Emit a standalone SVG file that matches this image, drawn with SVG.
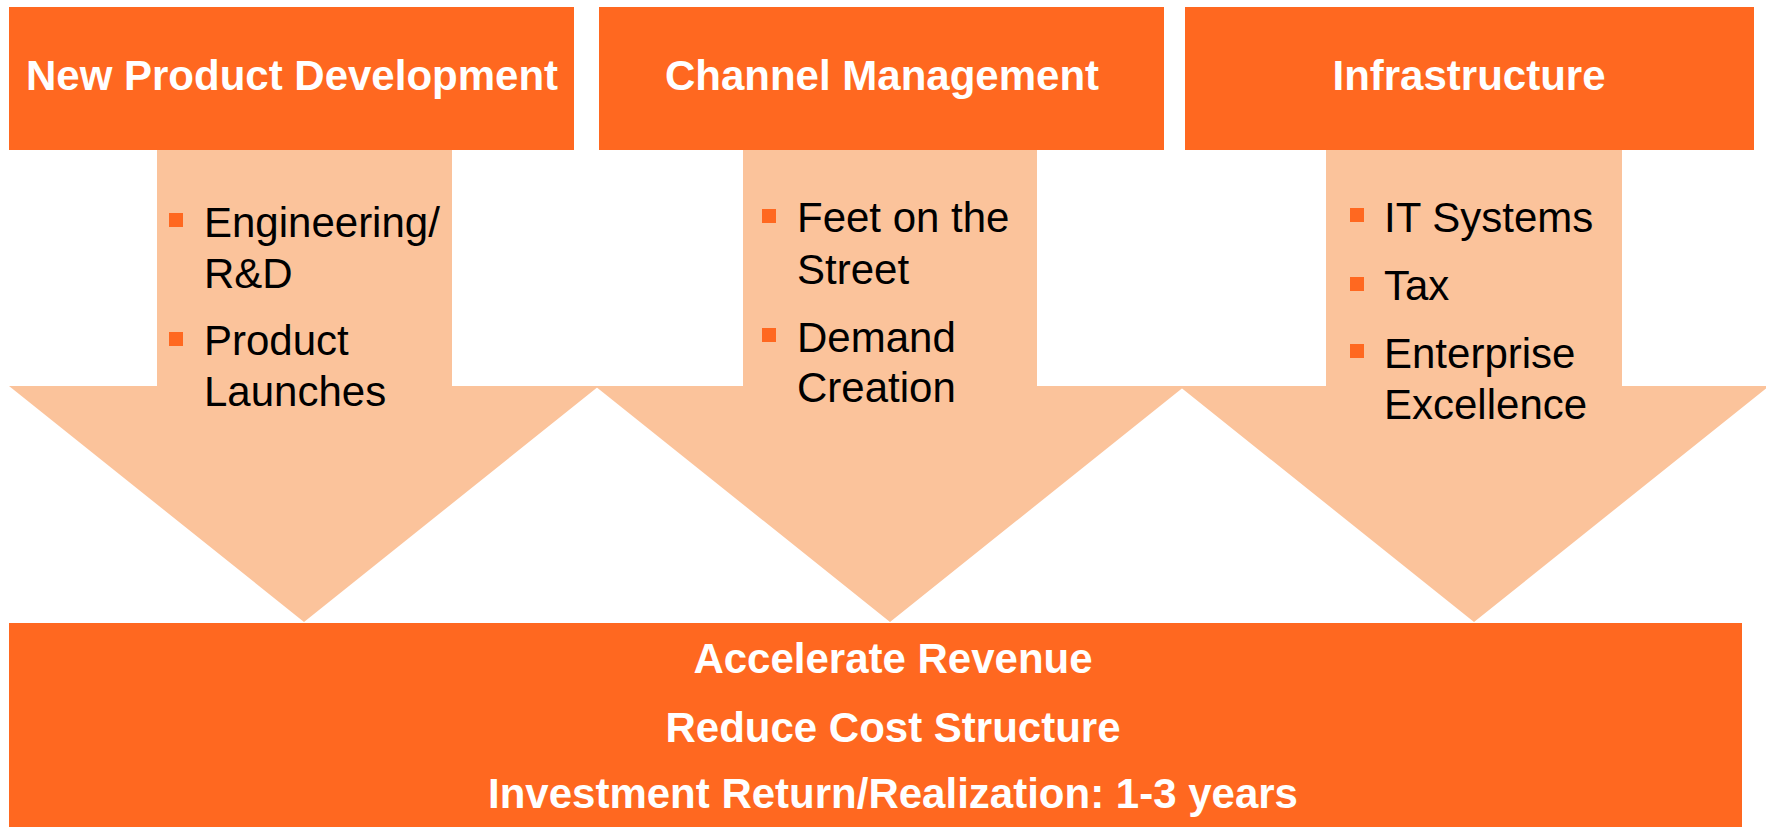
<svg xmlns="http://www.w3.org/2000/svg" width="1766" height="827" viewBox="0 0 1766 827">
<style>
.box{fill:#FF6820}
.arrow{fill:#FBC39B}
.hdr{font-family:"Liberation Sans",Arial,sans-serif;font-weight:bold;font-size:42px;fill:#FFFFFF;text-anchor:middle}
.item{font-family:"Liberation Sans",Arial,sans-serif;font-size:42px;fill:#000000}
.bul{fill:#FF6820}
</style>
<rect width="1766" height="827" fill="#FFFFFF"/>
<g id="connectors">
<polygon class="arrow" points="157,150 452,150 452,386 599,386 304,622 9,386 157,386"/>
<polygon class="arrow" points="743,150 1037,150 1037,386 1185,386 890,622 595,386 743,386"/>
<polygon class="arrow" points="1326,150 1622,150 1622,386 1769,386 1474,622 1179,386 1326,386"/>
</g>
<g id="node-new-product">
<rect class="box" x="9" y="7" width="565" height="143"/>
<text class="hdr" x="292" y="90">New Product Development</text>
</g>
<g id="node-channel">
<rect class="box" x="599" y="7" width="565" height="143"/>
<text class="hdr" x="882" y="90">Channel Management</text>
</g>
<g id="node-infra">
<rect class="box" x="1185" y="7" width="569" height="143"/>
<text class="hdr" x="1469" y="90">Infrastructure</text>
</g>
<g id="list-new-product">
<rect class="bul" x="169" y="213" width="14" height="14"/>
<text class="item" x="204" y="237">Engineering/</text>
<text class="item" x="204" y="288">R&amp;D</text>
<rect class="bul" x="169" y="332" width="14" height="14"/>
<text class="item" x="204" y="355">Product</text>
<text class="item" x="204" y="406">Launches</text>
</g>
<g id="list-channel">
<rect class="bul" x="762" y="209" width="14" height="14"/>
<text class="item" x="797" y="232">Feet on the</text>
<text class="item" x="797" y="284">Street</text>
<rect class="bul" x="762" y="328" width="14" height="14"/>
<text class="item" x="797" y="352">Demand</text>
<text class="item" x="797" y="402">Creation</text>
</g>
<g id="list-infra">
<rect class="bul" x="1350" y="208" width="14" height="14"/>
<text class="item" x="1384" y="232">IT Systems</text>
<rect class="bul" x="1350" y="277" width="14" height="14"/>
<text class="item" x="1384" y="300">Tax</text>
<rect class="bul" x="1350" y="344" width="14" height="14"/>
<text class="item" x="1384" y="368">Enterprise</text>
<text class="item" x="1384" y="419">Excellence</text>
</g>
<g id="node-outcome">
<rect class="box" x="9" y="623" width="1733" height="204"/>
<text class="hdr" x="893" y="673">Accelerate Revenue</text>
<text class="hdr" x="893" y="742">Reduce Cost Structure</text>
<text class="hdr" x="893" y="808">Investment Return/Realization: 1-3 years</text>
</g>
</svg>
